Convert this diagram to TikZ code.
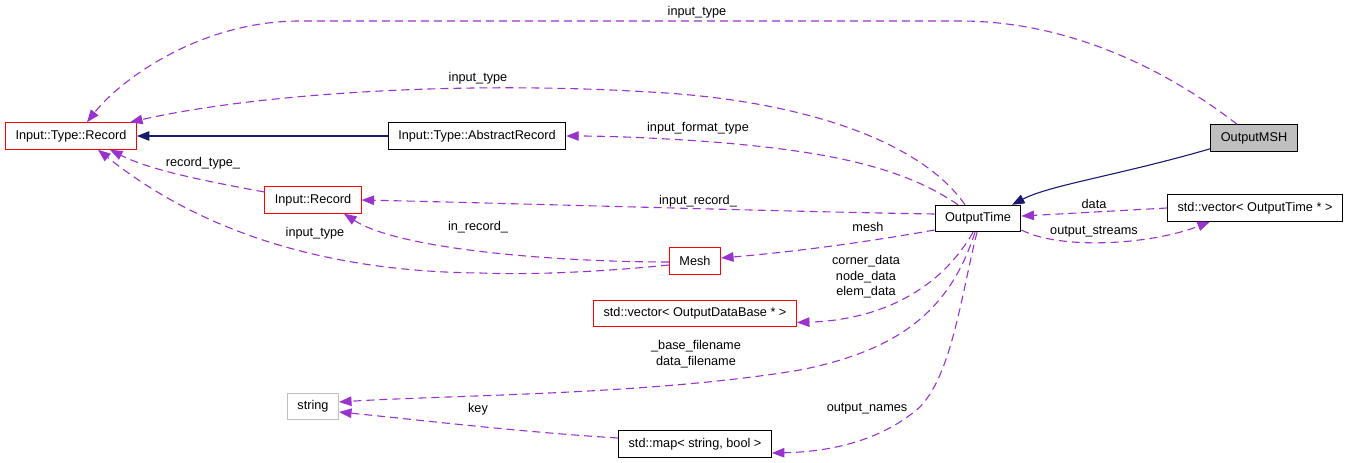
\documentclass[tikz,border=0pt]{standalone}
\usepackage{fontspec}
\setmainfont{Liberation Sans}
\usepackage{xcolor}
\usepackage{tikz}
\usetikzlibrary{arrows.meta,positioning,calc}
\definecolor{orchid}{HTML}{9A32CD}
\definecolor{navyline}{HTML}{191970}
\definecolor{greybox}{HTML}{BFBFBF}

\begin{document}
\begin{tikzpicture}[x=1pt,y=-1pt,
  font=\fontsize{12.7}{15.5}\selectfont,
  cls/.style={draw=black,fill=white,line width=1pt,inner xsep=10pt,inner ysep=0pt,minimum height=26.5pt},
  redcls/.style={cls,draw=red},
  dep/.style={draw=orchid,line width=1.1pt,dash pattern=on 8pt off 5pt,-{Triangle[length=12.5pt,width=9.5pt]}},
  inh/.style={draw=navyline,line width=1.1pt,-{Triangle[length=12.5pt,width=9.5pt]}},
  lbl/.style={inner sep=0pt,align=center}]
  \useasboundingbox (0,0) rectangle (1352,463);
  % 各个类的方框
  \node (rec) [redcls] at (71,136) {Input::Type::Record};
  \node (abs) [cls] at (477,136) {Input::Type::AbstractRecord};
  \node (msh) [cls,fill=greybox] at (1254,138) {OutputMSH};
  \node (irec) [redcls] at (313,200) {Input::Record};
  \node (otime) [cls] at (978,218.5) {OutputTime};
  \node (ovec) [cls] at (1255,208) {std::vector< OutputTime * >};
  \node (mesh) [redcls] at (695,261) {Mesh};
  \node (dvec) [redcls] at (695,313.5) {std::vector< OutputDataBase * >};
  \node (str) [cls,draw=greybox] at (313,406.5) {string};
  \node (map) [cls] at (695,444) {std::map< string, bool >};
  % 继承关系
  \draw[inh] (abs.west) -- (rec.east);
  \draw[inh] ([yshift=3pt]msh.south west) .. controls (1120,175) and (1050,185) .. ([xshift=34pt]otime.north);
  % 成员关系（虚线）
  \draw[dep] ([xshift=-17pt]msh.north) .. controls (1180,80) and (1080,21) .. (960,21) -- (300,21)
    .. controls (200,21) and (120,80) .. ([xshift=16pt]rec.north);
  \draw[dep] ([xshift=-13pt]otime.north) .. controls (920,140) and (800,100) .. (650,92)
    .. controls (450,80) and (250,95) .. ([xshift=59pt]rec.north);
  \draw[dep] ([xshift=-20pt]otime.north) .. controls (900,165) and (820,150) .. (700,141)
    .. controls (640,137) and (600,136) .. (abs.east);
  \draw[dep] (ovec.west) .. controls (1100,212) .. ([yshift=2.5pt]otime.east);
  \draw[dep] ([yshift=-11.5pt]otime.east) .. controls (1060,250) and (1150,245) .. ([xshift=-45pt]ovec.south);
  \draw[dep] ([yshift=4.5pt]otime.west) .. controls (800,212) and (500,203) .. (irec.east);
  \draw[dep] ([yshift=-11.5pt]otime.west) .. controls (850,245) and (780,253) .. ([yshift=3pt]mesh.east);
  \draw[dep] ([yshift=-1pt]mesh.west) .. controls (560,262) and (400,250) .. ([xshift=31pt]irec.south);
  \draw[dep] ([yshift=-4pt]mesh.west) .. controls (600,272) and (530,275) .. (480,273)
    .. controls (380,272) and (230,255) .. ([xshift=27pt]rec.south);
  \draw[dep] ([yshift=8pt]irec.west) .. controls (200,180) and (150,170) .. ([xshift=39pt]rec.south);
  \draw[dep] ([xshift=-5pt]otime.south) .. controls (940,290) and (880,320) .. ([yshift=-9pt]dvec.east);
  \draw[dep] ([xshift=-3pt]otime.south) .. controls (950,310) and (900,350) .. (800,370)
    .. controls (650,395) and (450,395) .. ([yshift=4.5pt]str.east);
  \draw[dep] ([xshift=-1pt]otime.south) .. controls (960,300) and (950,390) .. (910,415)
    .. controls (870,445) and (820,452) .. ([yshift=-9pt]map.east);
  \draw[dep] ([yshift=6pt]map.west) .. controls (520,432) and (420,420) .. ([yshift=-5.5pt]str.east);
  % 连线上的文字
  \node (l1) [lbl] at (697,12) {input\_type};
  \node (l2) [lbl] at (478,78) {input\_type};
  \node (l3) [lbl] at (698,128) {input\_format\_type};
  \node (l4) [lbl] at (203,163) {record\_type\_};
  \node (l5) [lbl] at (698,201) {input\_record\_};
  \node (l6) [lbl] at (1094,204) {data};
  \node (l7) [lbl] at (478,227) {in\_record\_};
  \node (l8) [lbl] at (315,233) {input\_type};
  \node (l9) [lbl] at (868,227) {mesh};
  \node (l10) [lbl] at (1094,232) {output\_streams};
  \node (l11) [lbl] at (866,277) {corner\_data\\node\_data\\elem\_data};
  \node (l12) [lbl] at (696,354) {\_base\_filename\\data\_filename};
  \node (l13) [lbl] at (478,409) {key};
  \node (l14) [lbl] at (867,409) {output\_names};
\end{tikzpicture}
\end{document}
